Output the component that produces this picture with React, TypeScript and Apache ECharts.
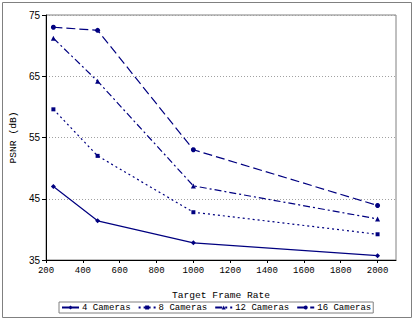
import React, { useEffect, useRef } from "react";
import * as echarts from "echarts";

const frameRates = [240, 480, 1000, 2000];
const seriesNames = ["4 Cameras", "8 Cameras", "12 Cameras", "16 Cameras"];
const cams4 = [47.0, 41.4, 37.8, 35.7];
const cams8 = [59.6, 52.0, 42.8, 39.2];
const cams12 = [71.2, 64.2, 47.1, 41.7];
const cams16 = [73.0, 72.5, 53.0, 43.9];
const yTicks = [35, 45, 55, 65, 75];

const NAVY = "#000080";
const MONO = "Liberation Mono";

export default function App() {
  const ref = useRef<HTMLDivElement>(null);
  useEffect(() => {
    if (!ref.current) return;
    const chart = echarts.init(ref.current, undefined, { renderer: "svg" });
    const values = [cams4, cams8, cams12, cams16];
    const symbols = ["diamond", "rect", "triangle", "circle"];
    const symbolSizes = [5, 4, 5, 5];
    const dashes: any[] = ["solid", [2, 3], [7, 3, 2, 3], [9, 4]];
    chart.setOption({
      animation: false,
      backgroundColor: "#ffffff",
      graphic: [
        {
          type: "rect",
          shape: { x: 2.5, y: 2.5, width: 409, height: 315 },
          style: { fill: "none", stroke: "#808080", lineWidth: 1 },
          silent: true,
        },
      ],
      grid: {
        left: 43,
        top: 15,
        right: 19,
        bottom: 61,
        show: true,
        borderColor: "#808080",
        borderWidth: 1,
      },
      legend: {
        left: 59,
        top: 302,
        width: 330,
        padding: [1, 2, 1, 2],
        itemGap: 7,
        itemWidth: 17,
        itemHeight: 5,
        borderColor: "#808080",
        borderWidth: 1,
        textStyle: { fontFamily: MONO, fontSize: 9, color: "#000", padding: [0, 0, 0, -2] },
        data: seriesNames,
      },
      xAxis: {
        type: "value",
        min: 200,
        max: 2100,
        interval: 200,
        name: "Target Frame Rate",
        nameLocation: "middle",
        nameGap: 30,
        nameTextStyle: { fontFamily: MONO, fontSize: 9.6, color: "#000" },
        axisLine: { onZero: false, lineStyle: { color: "#000", width: 1 } },
        axisTick: { show: true, length: 3, lineStyle: { color: "#000" } },
        axisLabel: {
          fontFamily: MONO,
          fontSize: 9,
          color: "#000",
          margin: 6,
          showMaxLabel: false,
          formatter: (v: number) => (v > 2000 ? "" : String(v)),
        },
        splitLine: { show: false },
      },
      yAxis: {
        type: "value",
        min: yTicks[0],
        max: yTicks[yTicks.length - 1],
        interval: 10,
        name: "PSNR (dB)",
        nameLocation: "middle",
        nameGap: 28,
        nameTextStyle: { fontFamily: MONO, fontSize: 9.6, color: "#000" },
        axisLine: { show: true, lineStyle: { color: "#000", width: 1 } },
        axisTick: { show: true, length: 4, lineStyle: { color: "#000" } },
        axisLabel: {
          fontFamily: "Liberation Sans",
          fontSize: 10,
          color: "#000",
          margin: 6,
        },
        splitLine: {
          show: true,
          lineStyle: { color: "#a0a0a0", type: [1, 2], width: 1 },
        },
      },
      series: seriesNames.map((name, i) => ({
        name,
        type: "line",
        data: frameRates.map((x, j) => [x, values[i][j]]),
        symbol: symbols[i],
        symbolSize: symbolSizes[i],
        showAllSymbol: true,
        color: NAVY,
        itemStyle: { color: NAVY },
        lineStyle: { color: NAVY, width: 1.2, type: dashes[i] },
      })),
    });
    return () => chart.dispose();
  }, []);
  return (
    <div
      ref={ref}
      style={{ position: "fixed", left: 0, top: 0, width: 415, height: 321 }}
    />
  );
}
